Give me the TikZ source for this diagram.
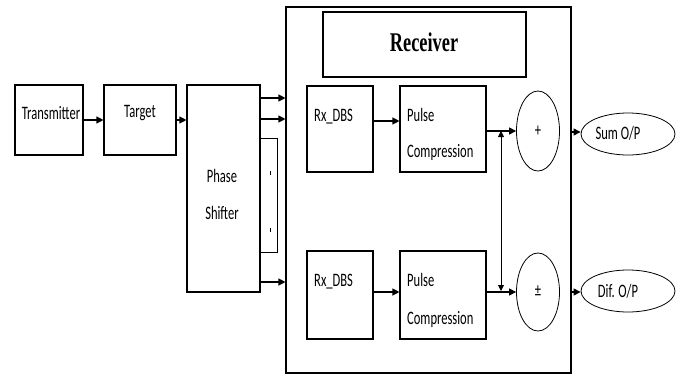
\documentclass[tikz,border=0pt]{standalone}
\usepackage{fontspec}
\setmainfont{Carlito}
\newfontfamily\titlefont{Liberation Serif}
\usetikzlibrary{shapes.geometric,arrows.meta}
% condensed lettering
\newcommand{\narrow}[1]{\scalebox{0.66}[1]{#1}}
\begin{document}
\begin{tikzpicture}[x=1pt,y=-1pt,
  blk/.style={draw, line width=1.1pt, rectangle, inner sep=0pt},
  oval/.style={draw, line width=0.8pt, ellipse, inner sep=0pt},
  lbl/.style={inner sep=0pt, font=\fontsize{19}{22}\selectfont},
  arr/.style={line width=1.1pt, -{Triangle[length=7pt,width=7pt]}},
  darr/.style={line width=0.9pt, {Triangle[length=6pt,width=6pt]}-{Triangle[length=6pt,width=6pt]}},
]
\useasboundingbox (0,0) rectangle (678,375);

% transmitter chain
\node[blk, minimum width=68pt, minimum height=70pt] (tx) at (49,120) {};
\node[lbl] at (51,113) {\narrow{Transmitter}};
\node[blk, minimum width=72pt, minimum height=70pt] (tg) at (140,120) {};
\node[lbl] at (140,113) {\narrow{Target}};
\node[blk, minimum width=73pt, minimum height=207pt] (ps) at (223.5,188.5) {};
\node[lbl] at (222,176) {\narrow{Phase}};
\node[lbl] at (222,213) {\narrow{Shifter}};

% receiver enclosure and title
\node[blk, minimum width=285pt, minimum height=366pt] (rxbox) at (428.5,190) {};
\node[blk, minimum width=203pt, minimum height=65pt] (title) at (424.5,44.5) {};
\node[inner sep=0pt, font=\titlefont\bfseries\fontsize{27}{30}\selectfont] at (424,42) {\scalebox{0.68}[1]{Receiver}};

% upper channel
\node[blk, minimum width=66pt, minimum height=86pt] (rx1) at (340,129) {};
\node[lbl, anchor=base west] at (314,121) {\narrow{Rx\_DBS}};
\node[blk, minimum width=86pt, minimum height=86pt] (pc1) at (443,129) {};
\node[lbl, anchor=base west] at (407,121) {\narrow{Pulse}};
\node[lbl, anchor=base west] at (407,157) {\narrow{Compression}};
\node[oval, minimum width=43pt, minimum height=80pt] (sum) at (538,131) {};
\node[lbl] at (538,131) {\narrow{+}};

% lower channel
\node[blk, minimum width=66pt, minimum height=88pt] (rx2) at (340,295) {};
\node[lbl, anchor=base west] at (314,286) {\narrow{Rx\_DBS}};
\node[blk, minimum width=86pt, minimum height=88pt] (pc2) at (443,295) {};
\node[lbl, anchor=base west] at (407,286) {\narrow{Pulse}};
\node[lbl, anchor=base west] at (407,324) {\narrow{Compression}};
\node[oval, minimum width=43pt, minimum height=78pt] (dif) at (538,292) {};
\node[lbl] at (538,291) {\narrow{±}};

% outputs
\node[oval, minimum width=94pt, minimum height=42pt] (sumo) at (628,134) {};
\node[lbl] at (618,133) {\narrow{Sum O/P}};
\node[oval, minimum width=94pt, minimum height=42pt] (difo) at (628,291) {};
\node[lbl] at (618,291) {\narrow{Dif. O/P}};

% chain connectors
\draw[arr] (tx.east) -- (tg.west);
\draw[arr] (tg.east) -- (ps.west |- tg.east);

% phase shifter outputs and the bracket for the omitted ones
\draw[arr] (ps.east |- 0,98) -- (rxbox.west |- 0,98);
\draw[arr] (ps.east |- 0,119) -- (rxbox.west |- 0,119);
\draw[arr] (ps.east |- 0,282) -- (rxbox.west |- 0,282);
\draw[line width=1pt] (ps.east |- 0,138) -| (277,252) -- (ps.east |- 0,252);
\draw[line width=1pt] (270,171) -- (270,175);
\draw[line width=1pt] (270,228) -- (270,232);

% receiver connectors
\draw[arr] (rx1.east |- 0,121) -- (pc1.west |- 0,121);
\draw[arr] (pc1.east |- sum.west) -- (sum.west);
\draw[arr] (rx2.east |- 0,292) -- (pc2.west |- 0,292);
\draw[arr] (pc2.east |- dif.west) -- (dif.west);
\coordinate (j1) at (501,131);
\coordinate (j2) at (501,291);
\draw[darr] (j1) -- (j2);

\draw[arr] (rxbox.east |- 0,132) -- (sumo.west |- 0,132);
\draw[arr] (rxbox.east |- 0,292) -- (difo.west |- 0,292);
\end{tikzpicture}
\end{document}
